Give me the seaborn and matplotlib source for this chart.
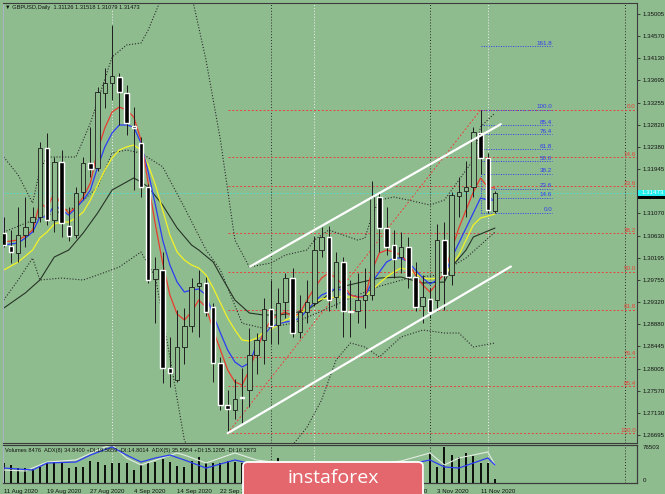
import numpy as np
import pandas as pd
import matplotlib
matplotlib.use("Agg")
import matplotlib.pyplot as plt
import seaborn as sns
from matplotlib.patches import FancyBboxPatch, Rectangle

sns.set_style("white")
plt.rcParams['font.family'] = ['Liberation Sans', 'DejaVu Sans']

# ---- daily GBPUSD candles, 11 Aug 2020 .. 13 Nov 2020
opens = [1.3068, 1.3043, 1.3029, 1.3064, 1.3090, 1.3100, 1.3236, 1.3094, 1.3208, 1.3082,
         1.3064, 1.3149, 1.3206, 1.3197, 1.3345, 1.3364, 1.3376, 1.3345, 1.3280, 1.3246,
         1.3159, 1.2977, 1.2995, 1.2802, 1.2778, 1.2843, 1.2885, 1.2964, 1.2970, 1.2922,
         1.2811, 1.2729, 1.2719, 1.2745, 1.2758, 1.2827, 1.2857, 1.2918, 1.2886, 1.2932,
         1.2979, 1.2873, 1.2912, 1.2930, 1.3035, 1.3060, 1.2942, 1.3010, 1.2915, 1.2915,
         1.2936, 1.2945, 1.3139, 1.3078, 1.3045, 1.3020, 1.3041, 1.2981, 1.2924, 1.2937,
         1.2936, 1.3054, 1.2985, 1.3141, 1.3151, 1.3159, 1.3266, 1.3216, 1.31126]
highs = [1.3100, 1.3075, 1.3120, 1.3139, 1.3120, 1.3248, 1.3266, 1.3218, 1.3232, 1.3120,
         1.3159, 1.3218, 1.3277, 1.3356, 1.3394, 1.3479, 1.3385, 1.3360, 1.3317, 1.3258,
         1.3165, 1.3021, 1.3031, 1.2863, 1.2916, 1.2920, 1.2979, 1.2995, 1.2982, 1.2930,
         1.2823, 1.2758, 1.2780, 1.2802, 1.2880, 1.2870, 1.2940, 1.2975, 1.2960, 1.2990,
         1.3000, 1.2945, 1.2975, 1.3063, 1.3080, 1.3083, 1.3030, 1.3020, 1.2975, 1.2990,
         1.3000, 1.3170, 1.3150, 1.3120, 1.3075, 1.3070, 1.3060, 1.3010, 1.2985, 1.2960,
         1.3085, 1.3090, 1.3150, 1.3178, 1.3210, 1.3277, 1.3311, 1.3226, 1.31518]
lows = [1.3040, 1.3009, 1.3010, 1.3041, 1.3070, 1.3090, 1.3084, 1.3070, 1.3060, 1.3052,
        1.3058, 1.3135, 1.3178, 1.3190, 1.3315, 1.3331, 1.3281, 1.3262, 1.3153, 1.3140,
        1.2970, 1.2891, 1.2772, 1.2764, 1.2774, 1.2810, 1.2872, 1.2863, 1.2904, 1.2775,
        1.2719, 1.2673, 1.2702, 1.2693, 1.2725, 1.2790, 1.2810, 1.2850, 1.2850, 1.2900,
        1.2863, 1.2860, 1.2890, 1.2925, 1.3020, 1.2915, 1.2920, 1.2863, 1.2863, 1.2890,
        1.2880, 1.2935, 1.3030, 1.3025, 1.2980, 1.2990, 1.2960, 1.2915, 1.2890, 1.2900,
        1.2915, 1.2916, 1.2965, 1.3100, 1.3100, 1.3140, 1.3185, 1.3107, 1.31079]
closes = [1.3045, 1.3030, 1.3064, 1.3080, 1.3100, 1.3236, 1.3094, 1.3208, 1.3088, 1.3062,
          1.3147, 1.3206, 1.3194, 1.3347, 1.3364, 1.3378, 1.3347, 1.3285, 1.3276, 1.3159,
          1.2975, 1.2997, 1.2802, 1.2792, 1.2843, 1.2885, 1.2962, 1.2970, 1.2912, 1.2811,
          1.2729, 1.2721, 1.2740, 1.2743, 1.2827, 1.2857, 1.2918, 1.2885, 1.2930, 1.2979,
          1.2871, 1.2912, 1.2932, 1.3035, 1.3060, 1.2936, 1.3010, 1.2915, 1.2913, 1.2936,
          1.2945, 1.3139, 1.3078, 1.3041, 1.3016, 1.3040, 1.2981, 1.2922, 1.2942, 1.2912,
          1.3054, 1.2985, 1.3143, 1.3149, 1.3159, 1.3268, 1.3216, 1.3113, 1.31473]
volumes = [39700, 36200, 29600, 29600, 27500, 32900, 40900, 42900, 40900, 29600,
           32900, 32900, 44900, 42900, 36200, 40900, 40900, 40900, 26200, 36200,
           39700, 42900, 47700, 42900, 34200, 32900, 44900, 51700, 39700, 40900,
           39700, 44900, 42900, 39700, 38000, 36000, 45000, 39000, 49700, 38000,
           40000, 37000, 35000, 39000, 36000, 41000, 38000, 40000, 34000, 37000,
           36000, 41000, 39000, 35000, 33000, 36000, 38000, 40000, 37000, 59800,
           32900, 73000, 56400, 53000, 59800, 54400, 40900, 39700, 8476]

# ---- moving averages (one value per bar)
ma_red = [1.30504, 1.30524, 1.30544, 1.30623, 1.30741, 1.31274, 1.31175, 1.31472, 1.31234, 1.31076,
          1.31195, 1.31392, 1.31669, 1.32320, 1.32755, 1.33071, 1.33169, 1.33110, 1.32972, 1.32518,
          1.31669, 1.30840, 1.30090, 1.29458, 1.29083, 1.28965, 1.29123, 1.29359, 1.29221, 1.28767,
          1.28372, 1.27978, 1.27741, 1.27682, 1.27978, 1.28372, 1.28728, 1.28965, 1.29063, 1.29123,
          1.29024, 1.29103, 1.29359, 1.29596, 1.29793, 1.29892, 1.29793, 1.29655, 1.29458, 1.29418,
          1.29418, 1.29952, 1.30287, 1.30346, 1.30307, 1.30248, 1.30090, 1.29853, 1.29655, 1.29517,
          1.29695, 1.29892, 1.30346, 1.30781, 1.31136, 1.31491, 1.31767, 1.31590, 1.31570]
ma_blue = [1.30445, 1.30465, 1.30485, 1.30583, 1.30702, 1.30998, 1.30998, 1.31234, 1.31136, 1.31037,
           1.31175, 1.31333, 1.31531, 1.31985, 1.32380, 1.32656, 1.32814, 1.32814, 1.32775, 1.32459,
           1.31886, 1.31234, 1.30544, 1.30050, 1.29714, 1.29517, 1.29557, 1.29576, 1.29458, 1.29063,
           1.28708, 1.28372, 1.28136, 1.28037, 1.28116, 1.28471, 1.28669, 1.28827, 1.28886, 1.28925,
           1.28945, 1.29004, 1.29162, 1.29320, 1.29458, 1.29517, 1.29596, 1.29537, 1.29458, 1.29418,
           1.29438, 1.29714, 1.29912, 1.30109, 1.30188, 1.30188, 1.30109, 1.29952, 1.29793, 1.29675,
           1.29754, 1.29853, 1.30188, 1.30485, 1.30781, 1.31077, 1.31373, 1.31333, 1.31333]
ma_yellow = [1.29952, 1.30030, 1.30109, 1.30228, 1.30346, 1.30583, 1.30702, 1.30860, 1.30899, 1.30899,
             1.30978, 1.31096, 1.31333, 1.31629, 1.31926, 1.32162, 1.32320, 1.32380, 1.32419, 1.32320,
             1.32024, 1.31629, 1.31136, 1.30642, 1.30307, 1.30149, 1.30050, 1.29991, 1.29853, 1.29596,
             1.29300, 1.29004, 1.28767, 1.28570, 1.28550, 1.28609, 1.28728, 1.28787, 1.28866, 1.28965,
             1.29024, 1.29083, 1.29201, 1.29320, 1.29379, 1.29399, 1.29418, 1.29418, 1.29418, 1.29418,
             1.29418, 1.29557, 1.29695, 1.29813, 1.29912, 1.29991, 1.29952, 1.29872, 1.29793, 1.29774,
             1.29793, 1.29833, 1.30050, 1.30248, 1.30544, 1.30840, 1.30978, 1.31017, 1.31057]
ma_slow_idx = [0, 3, 5, 7, 9, 11, 13, 15, 17, 18, 19, 20, 22, 24, 26, 27, 29, 30, 32, 34,
               36, 38, 40, 42, 44, 46, 49, 52, 55, 58, 61, 62, 64, 65, 68]
ma_slow = [1.29200, 1.29500, 1.29754, 1.30208, 1.30346, 1.30682, 1.31077, 1.31531, 1.31689, 1.31768,
           1.31689, 1.31590, 1.31234, 1.30781, 1.30445, 1.30346, 1.30109, 1.29853, 1.29359, 1.29103,
           1.29063, 1.29063, 1.29100, 1.29162, 1.29359, 1.29596, 1.29695, 1.29793, 1.29813, 1.29695,
           1.29714, 1.30011, 1.30346, 1.30603, 1.30780]
band_up_idx = [0, 2, 4, 5, 6, 10, 12, 15, 17, 19, 20, 22, 24, 26, 28, 29, 30, 31, 32, 34,
               37, 39, 42, 43, 45, 47, 49, 50, 51, 52, 54, 56, 59, 61, 63, 65, 66, 68]
band_up = [1.32182, 1.31827, 1.31274, 1.31926, 1.32182, 1.32182, 1.32853, 1.34156, 1.34393, 1.34432,
           1.34689, 1.35380, 1.35676, 1.35380, 1.34097, 1.33307, 1.32518, 1.31531, 1.30544, 1.30011,
           1.30090, 1.30248, 1.30346, 1.30544, 1.30741, 1.30642, 1.30544, 1.30583, 1.31037, 1.31333,
           1.31392, 1.31333, 1.31234, 1.31333, 1.31728, 1.32123, 1.32775, 1.33051]
band_mid_idx = [0, 5, 10, 13, 15, 17, 19, 22, 25, 28, 30, 33, 36, 40, 44, 48, 52, 56, 60, 64, 68]
band_mid = [1.30700, 1.30990, 1.31190, 1.31590, 1.32260, 1.32320, 1.32260, 1.31990, 1.31190, 1.30350,
            1.29950, 1.28900, 1.28800, 1.28900, 1.29140, 1.29400, 1.29630, 1.29790, 1.29850, 1.30190,
            1.30700]
band_lo_idx = [0, 2, 4, 5, 8, 11, 13, 16, 19, 21, 23, 25, 27, 30, 33, 36, 40, 42, 44, 46,
               48, 50, 52, 55, 58, 61, 63, 65, 68]
band_lo = [1.29359, 1.29754, 1.30188, 1.29754, 1.29793, 1.29754, 1.29853, 1.30011, 1.30307, 1.29813,
           1.28234, 1.26596, 1.26000, 1.25900, 1.25900, 1.26004, 1.26498, 1.26853, 1.27385, 1.28175,
           1.28511, 1.28432, 1.28234, 1.28629, 1.28767, 1.28708, 1.28708, 1.28432, 1.28511]

# ---- ADX lines in the volume window (own scale 0..50)
adx_blue_idx = [0, 4, 6, 10, 12, 15, 17, 19, 21, 23, 25, 28, 32, 35, 40, 45, 50, 55, 59, 61, 63, 65, 67, 68]
adx_blue = [19.7, 17.1, 26.3, 27.6, 36.8, 47.4, 36.8, 27.6, 32.9, 36.8, 30.3, 19.7, 30.3, 23.7,
            16.0, 15.0, 17.0, 22.4, 30.3, 21.1, 19.7, 26.3, 32.9, 23.7]
adx_white_idx = [0, 3, 6, 10, 14, 15, 17, 19, 24, 25, 28, 32, 35, 45, 55, 59, 61, 63, 67, 68]
adx_white = [17.1, 15.8, 27.6, 30.3, 47.4, 50.0, 32.9, 23.7, 39.5, 36.8, 26.3, 39.5, 30.3,
             18.0, 28.9, 39.5, 23.7, 32.9, 40.8, 23.7]

# ---- Fibonacci grids and channel
fib_pct = [0.0, 14.6, 23.6, 38.2, 50.0, 61.8, 76.4, 85.4, 100.0]
fib_red_hi, fib_red_lo = 1.3311, 1.2673
fib_blue_pct = [0.0, 14.6, 23.6, 38.2, 50.0, 61.8, 76.4, 85.4, 100.0, 161.8]
fib_blue_lo, fib_blue_hi = 1.31079, 1.3311
chan_up = ([34.1, 68.8], [1.3002, 1.3283])
chan_lo = ([31.0, 70.2], [1.2673, 1.3002])

price_ticks = [1.35005, 1.34570, 1.34130, 1.33695, 1.33255, 1.32820, 1.32380, 1.31945, 1.31070,
               1.30630, 1.30195, 1.29755, 1.29320, 1.28880, 1.28445, 1.28005, 1.27570, 1.27130, 1.26695]
date_ticks = list(range(0, 67, 6))
date_labels = ["11 Aug 2020", "19 Aug 2020", "27 Aug 2020", "4 Sep 2020", "14 Sep 2020", "22 Sep 2020",
               "30 Sep 2020", "8 Oct 2020", "16 Oct 2020", "26 Oct 2020", "3 Nov 2020", "11 Nov 2020"]
vlines_dark = [37, 59, 86]
vlines_light = [15, 43, 67]
last_price = 1.31473

bg = '#8fbc8f'
W, H = 665, 494
def box(l, t, r, b):
    return [l / W, 1 - b / H, (r - l) / W, (b - t) / H]

fig = plt.figure(figsize=(W / 100, H / 100), dpi=100, facecolor=bg)
ax = fig.add_axes(box(3, 3, 637, 443), facecolor=bg)
axv = fig.add_axes(box(3, 445, 637, 483), facecolor=bg)
axa = axv.twinx()
xmin, xmax = -0.1, 87.66
n = len(opens)
x = np.arange(n)
o, h, l, c = map(np.array, (opens, highs, lows, closes))

# reference lines
for v in vlines_dark:
    for a in (ax, axv):
        a.axvline(v, color='#2a2a2a', lw=0.7, ls=(0, (1, 2)), zorder=1)
for v in vlines_light:
    for a in (ax, axv):
        a.axvline(v, color='#f0f0f0', lw=0.7, ls=(0, (1, 2)), zorder=1)

red_lv = [fib_red_hi - p / 100 * (fib_red_hi - fib_red_lo) for p in fib_pct]
ax.hlines(red_lv, 31, xmax, colors='#e8423a', lw=0.7, linestyles=(0, (2, 2)), zorder=1)
for p, lv in zip(fib_pct, red_lv):
    ax.text(87.5, lv + 0.0001, f"{p:.1f}", color='#e8423a', fontsize=4.5, ha='right', va='bottom')
ax.plot([31, 66], [fib_red_lo, fib_red_hi], color='#e8423a', lw=0.7, ls=(0, (2, 2)), zorder=1)

blue_lv = [fib_blue_lo + p / 100 * (fib_blue_hi - fib_blue_lo) for p in fib_blue_pct]
ax.hlines(blue_lv, 66, 75.9, colors='#2f3cf0', lw=0.7, linestyles=(0, (1, 1.5)), zorder=2)
ax.vlines(66, fib_blue_lo, fib_blue_hi, colors='#2f3cf0', lw=0.7, linestyles=(0, (1, 1.5)), zorder=2)
for p, lv in zip(fib_blue_pct, blue_lv):
    ax.text(75.9, lv + 0.0001, f"{p:.1f}", color='#2f3cf0', fontsize=4.5, ha='right', va='bottom')

ax.axhline(last_price, color='#48e0d8', lw=0.6, ls=(0, (2, 2)), zorder=1)

# bands and averages
line_df = pd.DataFrame({'i': x, 'red': ma_red, 'blue': ma_blue, 'yellow': ma_yellow})
dot = (0, (1, 1.6))
sns.lineplot(x=band_up_idx, y=band_up, ax=ax, color='#2a2a2a', lw=0.8, linestyle=dot, zorder=2)
sns.lineplot(x=band_mid_idx, y=band_mid, ax=ax, color='#2a2a2a', lw=0.8, linestyle=dot, zorder=2)
sns.lineplot(x=band_lo_idx, y=band_lo, ax=ax, color='#2a2a2a', lw=0.8, linestyle=dot, zorder=2)
sns.lineplot(x=ma_slow_idx, y=ma_slow, ax=ax, color='#263326', lw=0.8, zorder=2)
sns.lineplot(data=line_df, x='i', y='yellow', ax=ax, color='#f2f226', lw=0.9, zorder=2)
sns.lineplot(data=line_df, x='i', y='blue', ax=ax, color='#2b3df2', lw=0.9, zorder=2)
sns.lineplot(data=line_df, x='i', y='red', ax=ax, color='#e83c2e', lw=0.9, zorder=2)

# channel
ax.plot(*chan_up, color='white', lw=1.6, zorder=5)
ax.plot(*chan_lo, color='white', lw=1.6, zorder=5)

# candles
up = c >= o
ax.vlines(x, l, h, color='#1c1c1c', lw=0.7, zorder=3)
ax.bar(x[~up], np.maximum(o - c, 0.00004)[~up], bottom=c[~up], width=0.62, color='black', zorder=4)
ax.bar(x[up], np.maximum(c - o, 0.00004)[up], bottom=o[up], width=0.62, facecolor=bg,
       edgecolor='#1c1c1c', lw=0.6, zorder=4)

ax.set_xlim(xmin, xmax)
ax.set_ylim(1.26537, 1.35222)
ax.set_xlabel('')
ax.set_ylabel('')
ax.yaxis.tick_right()
ax.set_yticks(price_ticks)
ax.set_yticklabels([f"{t:.5f}" for t in price_ticks])
ax.tick_params(axis='y', labelsize=4.4, length=2, width=0.5, pad=2, colors='#111111',
               right=True, left=False, labelleft=False)
ax.tick_params(axis='x', bottom=False, labelbottom=False)

# price tag on the axis
ax.add_patch(Rectangle((1.0015, last_price - 0.00062), 0.05, 0.00124, transform=ax.get_yaxis_transform(),
                       facecolor='#22f0f0', edgecolor='none', clip_on=False, zorder=6))
ax.add_patch(Rectangle((1.0015, last_price - 0.00120), 0.05, 0.00058, transform=ax.get_yaxis_transform(),
                       facecolor='black', edgecolor='none', clip_on=False, zorder=6))
ax.text(1.008, last_price, f"{last_price:.5f}", transform=ax.get_yaxis_transform(), fontsize=4.4,
        color='white', va='center', ha='left', zorder=7)

# ADX lines on their own scale
sns.lineplot(x=adx_white_idx, y=adx_white, ax=axa, color='#e4ece4', lw=0.8)
sns.lineplot(x=adx_blue_idx, y=adx_blue, ax=axa, color='#2b3df2', lw=0.9)
axa.set_ylim(0, 50)
axa.set_xlim(xmin, xmax)
axa.set_ylabel('')
axa.set_xlabel('')
axa.set_yticks([])
axa.tick_params(left=False, labelleft=False, right=False, labelright=False,
                bottom=False, labelbottom=False)

# volume window
axv.vlines(x, 0, volumes, color='black', lw=1.3, zorder=3)
axv.set_xlim(xmin, xmax)
axv.set_ylim(0, 76503)
axv.yaxis.tick_right()
axv.yaxis.set_label_position('right')
axv.set_yticks([0, 76503])
axv.set_yticklabels(['0', '76503'])
axv.tick_params(axis='y', labelsize=4.4, length=0, pad=4, colors='#111111',
                left=False, labelleft=False, right=True, labelright=True)
for lbl, va in zip(axv.get_yticklabels(which='both'), ['bottom', 'top']):
    lbl.set_va(va)
axv.set_xticks(date_ticks)
axv.set_xticklabels(date_labels)
axv.tick_params(axis='x', labelsize=4.4, length=3, width=0.5, pad=1, colors='#111111')
for lbl in axv.get_xticklabels():
    lbl.set_ha('left')
axv.set_xlabel('')
axv.set_ylabel('')

for a in (ax, axv, axa):
    for s in a.spines.values():
        s.set_color('#3c3c3c')
        s.set_linewidth(0.8)
    a.spines['left'].set_color('#a8b4c4')

fig.text(5 / W, 1 - 8 / H, "\u25bc GBPUSD,Daily  1.31126 1.31518 1.31079 1.31473", fontsize=4.1,
         va='center', color='#111111')
fig.text(5 / W, 1 - 450 / H,
         "Volumes 8476  ADX(8) 34.8400 +DI:19.5659 -DI:14.8014  ADX(5) 35.5954 +DI:15.1205 -DI:16.2873",
         fontsize=4.1, va='center', color='#111111')

# logo
fig.patches.append(FancyBboxPatch((243 / W, -10 / H), 180 / W, 42 / H, transform=fig.transFigure,
                                  boxstyle='round,pad=0,rounding_size=0.008', facecolor='#e3676c',
                                  edgecolor='white', lw=1.3, zorder=10))
fig.text(333 / W, 1 - 478 / H, "instaforex", fontsize=14, color='white', ha='center', va='center',
         family=['Open Sans', 'DejaVu Sans'], zorder=11)

fig.savefig('out.png', dpi=100, facecolor=bg)
